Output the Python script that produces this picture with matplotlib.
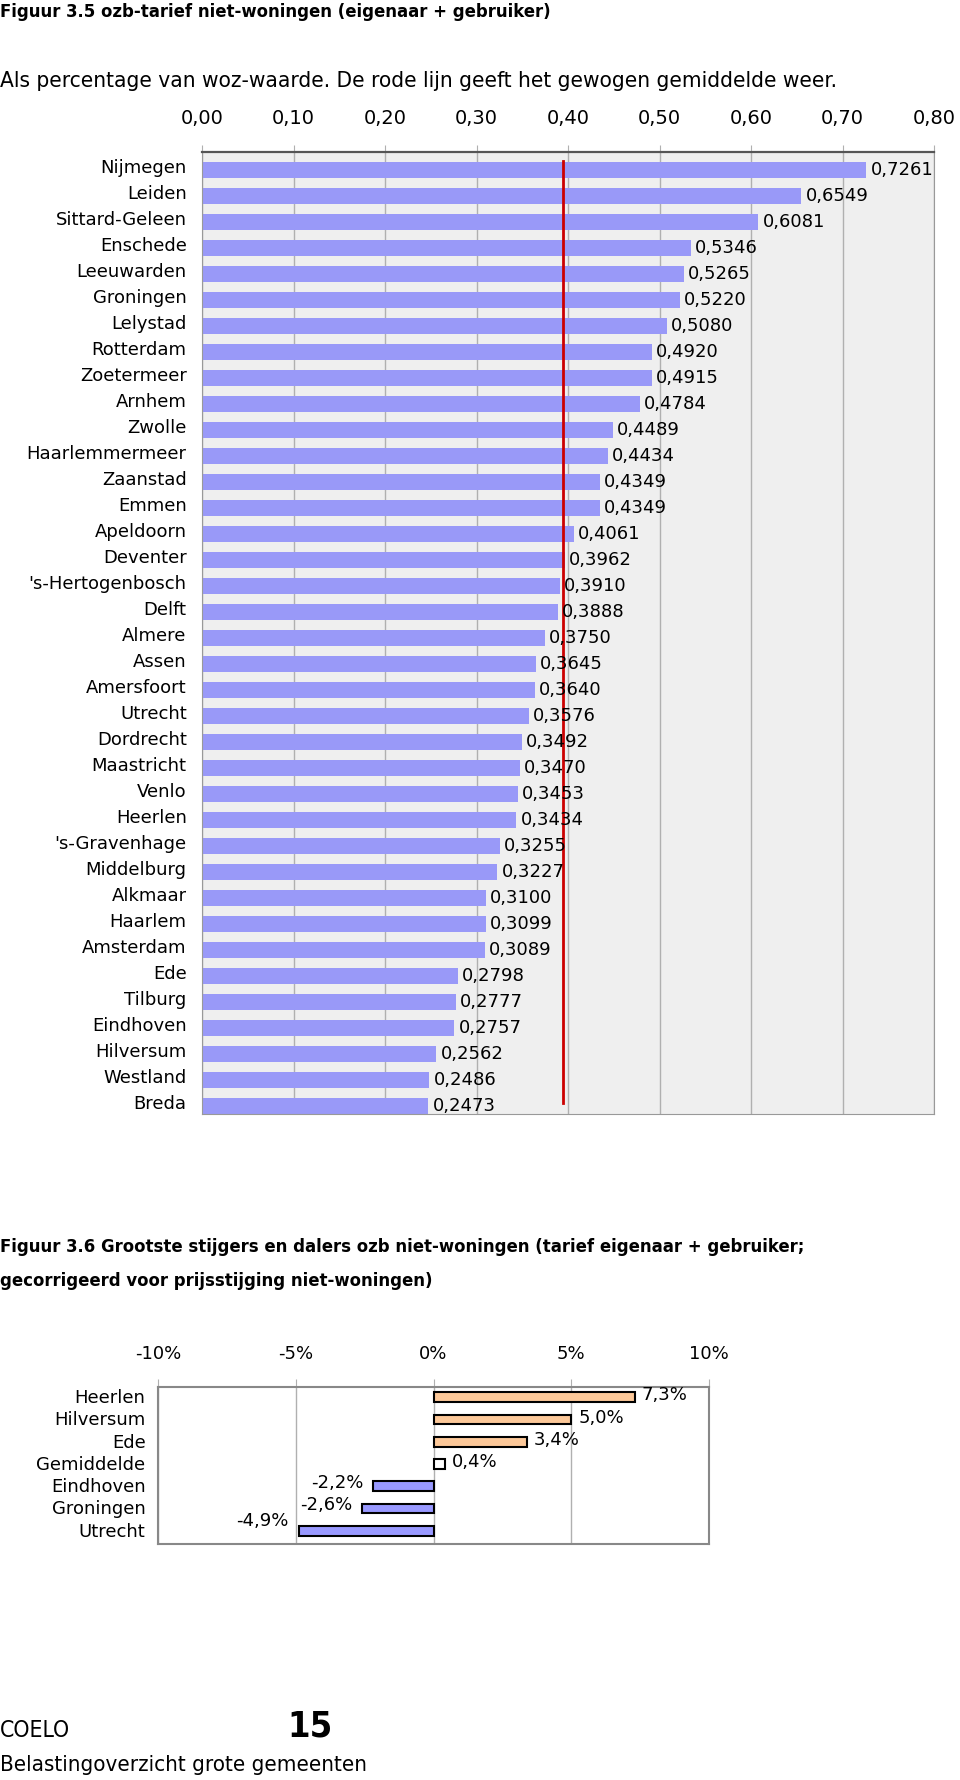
import matplotlib.pyplot as plt
import matplotlib.transforms as mtransforms

# data figuur 3.5
gemeenten = ['Nijmegen', 'Leiden', 'Sittard-Geleen', 'Enschede', 'Leeuwarden', 'Groningen',
             'Lelystad', 'Rotterdam', 'Zoetermeer', 'Arnhem', 'Zwolle', 'Haarlemmermeer',
             'Zaanstad', 'Emmen', 'Apeldoorn', 'Deventer', "'s-Hertogenbosch", 'Delft',
             'Almere', 'Assen', 'Amersfoort', 'Utrecht', 'Dordrecht', 'Maastricht', 'Venlo',
             'Heerlen', "'s-Gravenhage", 'Middelburg', 'Alkmaar', 'Haarlem', 'Amsterdam',
             'Ede', 'Tilburg', 'Eindhoven', 'Hilversum', 'Westland', 'Breda']
tarief = [0.7261, 0.6549, 0.6081, 0.5346, 0.5265, 0.5220, 0.5080, 0.4920, 0.4915, 0.4784,
          0.4489, 0.4434, 0.4349, 0.4349, 0.4061, 0.3962, 0.3910, 0.3888, 0.3750, 0.3645,
          0.3640, 0.3576, 0.3492, 0.3470, 0.3453, 0.3434, 0.3255, 0.3227, 0.3100, 0.3099,
          0.3089, 0.2798, 0.2777, 0.2757, 0.2562, 0.2486, 0.2473]
gewogen_gemiddelde = 0.395
ticks1 = [0.0, 0.1, 0.2, 0.3, 0.4, 0.5, 0.6, 0.7, 0.8]

# data figuur 3.6
namen2 = ['Heerlen', 'Hilversum', 'Ede', 'Gemiddelde', 'Eindhoven', 'Groningen', 'Utrecht']
mutatie = [7.3, 5.0, 3.4, 0.4, -2.2, -2.6, -4.9]
kleuren2 = ['#fcc899', '#fcc899', '#fcc899', '#ffffff', '#9999ff', '#9999ff', '#9999ff']
ticks2 = [-10, -5, 0, 5, 10]

W, H = 960, 1781
fig = plt.figure(figsize=(W / 100, H / 100), dpi=100)
font = 'DejaVu Sans'
cond = dict(family=font, fontstretch='condensed')


def fy(px):
    return 1 - px / H


def shift_labels(labels, dy):
    # labels iets omhoog schuiven (dy in punten)
    off = mtransforms.ScaledTranslation(0, dy / 72, fig.dpi_scale_trans)
    for lab in labels:
        lab.set_transform(lab.get_transform() + off)


# titels
fig.text(0, fy(12), 'Figuur 3.5 ozb-tarief niet-woningen (eigenaar + gebruiker)',
         fontsize=13.2, fontweight='bold', va='center', **cond)
fig.text(0, fy(81), 'Als percentage van woz-waarde. De rode lijn geeft het gewogen gemiddelde weer.',
         fontsize=16.2, va='center', **cond)

# figuur 3.5
ax1 = fig.add_axes([202 / W, fy(1115), 732 / W, 962 / H])
ax1.set_facecolor('#efefef')
y = list(range(len(gemeenten)))
ax1.barh(y, tarief, height=0.62, color='#9999f8', zorder=2)
ax1.set_ylim(36.31, -0.69)
ax1.set_xlim(0, 0.8)
ax1.set_xticks(ticks1)
ax1.set_xticklabels([f'{t:.2f}'.replace('.', ',') for t in ticks1])
ax1.xaxis.tick_top()
ax1.tick_params(axis='x', direction='out', length=5, color='#b0b0b0', pad=13, labelsize=14)
ax1.set_yticks(y)
ax1.set_yticklabels(gemeenten)
ax1.tick_params(axis='y', length=0, pad=11, labelsize=13)
shift_labels(ax1.get_yticklabels(), 3.5)
ax1.grid(axis='x', color='#b0b0b0', linewidth=1, zorder=1)
ax1.set_axisbelow(True)
for s in ['left', 'right', 'bottom']:
    ax1.spines[s].set_color('#999999')
ax1.spines['top'].set_color('#555555')
ax1.spines['top'].set_linewidth(1.6)
for i, v in enumerate(tarief):
    ax1.annotate(f'{v:.4f}'.replace('.', ','), (v, i), xytext=(3, 1), textcoords='offset points',
                 va='center', ha='left', fontsize=13, family=font, zorder=4)
ax1.plot([gewogen_gemiddelde, gewogen_gemiddelde], [-0.35, 35.9], color='#cc0000', linewidth=2, zorder=3)

# titel figuur 3.6
fig.text(0, fy(1247), 'Figuur 3.6 Grootste stijgers en dalers ozb niet-woningen (tarief eigenaar + gebruiker;',
         fontsize=13.2, fontweight='bold', va='center', **cond)
fig.text(0, fy(1281), 'gecorrigeerd voor prijsstijging niet-woningen)',
         fontsize=13.2, fontweight='bold', va='center', **cond)

# figuur 3.6
ax2 = fig.add_axes([158 / W, fy(1545), 551 / W, 157 / H])
y2 = list(range(len(namen2)))
ax2.barh(y2, mutatie, height=0.44, color=kleuren2, edgecolor='black', linewidth=1.5, zorder=2)
ax2.set_ylim(6.6, -0.46)
ax2.set_xlim(-10, 10)
ax2.set_xticks(ticks2)
ax2.set_xticklabels([f'{t}%' for t in ticks2])
ax2.xaxis.tick_top()
ax2.tick_params(axis='x', direction='out', length=6, color='#b0b0b0', pad=12, labelsize=13)
ax2.set_yticks(y2)
ax2.set_yticklabels(namen2)
ax2.tick_params(axis='y', length=0, pad=9, labelsize=13)
shift_labels(ax2.get_yticklabels(), 1.5)
ax2.grid(axis='x', color='#b0b0b0', linewidth=1, zorder=1)
ax2.set_axisbelow(True)
for s in ax2.spines.values():
    s.set_color('#888888')
    s.set_linewidth(1.5)
for i, v in enumerate(mutatie):
    txt = f'{v:.1f}'.replace('.', ',') + '%'
    if v >= 0:
        ax2.annotate(txt, (v, i), xytext=(5, 2), textcoords='offset points',
                     va='center', ha='left', fontsize=13, family=font)
    else:
        up = 8 if v < -4 else 3
        ax2.annotate(txt, (v, i), xytext=(-7, up), textcoords='offset points',
                     va='center', ha='right', fontsize=13, family=font)

# voettekst
fig.text(0, fy(1731), 'COELO', fontsize=16.5, va='center', **cond)
fig.text(287 / W, fy(1727), '15', fontsize=26, fontweight='bold', va='center', **cond)
fig.text(0, fy(1765), 'Belastingoverzicht grote gemeenten', fontsize=16, va='center', **cond)

fig.savefig('out.png', dpi=100)
